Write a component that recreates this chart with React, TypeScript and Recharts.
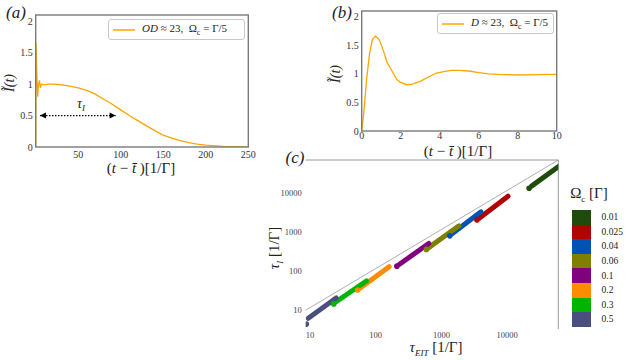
import React from 'react';
import { LineChart, Line, XAxis, YAxis, ReferenceLine, ScatterChart, Scatter } from 'recharts';

const serif = '"Liberation Serif", "DejaVu Serif", serif';

// (a) long pulse, OD ~ 23
const aTime = [0, 0.3, 1.2, 2.3, 3.3, 4.4, 5.4, 6.8, 9, 15, 20, 30, 40, 50, 60, 70, 80, 90, 100, 110, 120, 130, 140, 150, 160, 170, 180, 190, 200, 220, 250];
const aIntensity = [0, 1.66, 1.2, 0.8, 1.0, 1.06, 0.94, 1.0, 0.99, 1.0, 1.0, 0.99, 0.97, 0.94, 0.9, 0.84, 0.76, 0.68, 0.59, 0.5, 0.42, 0.34, 0.26, 0.19, 0.14, 0.1, 0.07, 0.045, 0.03, 0.01, 0.003];
const aTicksX = [50, 100, 150, 200, 250];
const aTicksY = [0, 0.5, 1, 1.5, 2];
const aArrowTime = [5, 94];
const aArrowLevel = 0.5;

// (b) short times
const bTime = [0, 0.1, 0.25, 0.4, 0.55, 0.7, 0.9, 1.1, 1.3, 1.5, 1.8, 2.0, 2.3, 2.6, 3.0, 3.4, 3.8, 4.2, 4.6, 5.0, 5.5, 6.0, 6.5, 7.0, 8.0, 9.0, 10];
const bIntensity = [0, 0.3, 0.9, 1.35, 1.6, 1.66, 1.6, 1.42, 1.2, 1.08, 0.9, 0.85, 0.81, 0.82, 0.87, 0.94, 1.01, 1.04, 1.06, 1.06, 1.05, 1.02, 1.0, 0.99, 0.98, 0.985, 0.99];
const bTicksX = [0, 2, 4, 6, 8, 10];
const bTicksY = [0, 0.5, 1, 1.5, 2];

// (c) tau_I vs tau_EIT for each control Rabi frequency
const omegaLabels = ['0.01', '0.025', '0.04', '0.06', '0.1', '0.2', '0.3', '0.5'];
const omegaColors = ['#1f4b0b', '#b30000', '#0052b4', '#808000', '#800080', '#ff8c00', '#00b400', '#4b4f80'];
const dotTauEIT = [21600, 3470, 1340, 590, 210, 53, 23, 8.8];
const dotTauI = [13200, 2040, 800, 360, 134, 33, 14.5, 4.4];
const runStartTauEIT = [23500, 3800, 1450, 640, 230, 58, 25, 9.4];
const runStartTauI = [15000, 2300, 900, 400, 150, 37, 16.5, 6.2];
const runEndTauEIT = [62000, 10300, 4000, 1850, 640, 160, 72, 25];
const runEndTauI = [49000, 8300, 3300, 1450, 510, 130, 56, 20.5];
const cTicks = [10, 100, 1000, 10000];

const aData = aTime.map((t, i) => ({ t, v: aIntensity[i] }));
const bData = bTime.map((t, i) => ({ t, v: bIntensity[i] }));
const arrowData = aArrowTime.map((t) => ({ t, v: aArrowLevel }));

const tickStyle = { fontSize: 10, fill: '#333', fontFamily: serif };

function Txt({ x, y, size = 14, rotate = 0, italic = false, children }: any) {
  return (
    <div
      style={{
        position: 'absolute', left: x, top: y, whiteSpace: 'nowrap',
        transform: `translate(-50%, -50%) rotate(${rotate}deg)`,
        fontFamily: serif, fontSize: size, fontStyle: italic ? 'italic' : 'normal', color: '#222', lineHeight: 1,
      }}
    >
      {children}
    </div>
  );
}

function Legend({ left, top, width, children }: any) {
  return (
    <div style={{
      position: 'absolute', left, top, width, height: 19, boxSizing: 'border-box',
      outline: '1px solid #c8c8c8', borderRadius: 2, background: '#fff',
      display: 'flex', alignItems: 'center', fontFamily: serif, fontSize: 11, color: '#222',
    }}>
      <div style={{ width: 22, height: 2, background: '#ffbb40', marginLeft: 4, marginRight: 7 }} />
      <span style={{ whiteSpace: 'nowrap' }}>{children}</span>
    </div>
  );
}

const arrowHead = (props: any) => {
  const { cx, cy, index } = props;
  const d = index === 0 ? `M${cx},${cy} l6,-3 l0,6 z` : `M${cx},${cy} l-6,-3 l0,6 z`;
  return <path key={index} d={d} fill="#000" />;
};

const noMark = (props: any) => <g key={props.index} />;

export default function App() {
  return (
    <div style={{ position: 'absolute', left: 0, top: 0, width: 640, height: 360, background: '#fff' }}>
      {/* (a) */}
      <LineChart width={260} height={180} data={aData} margin={{ top: 15, right: 11.7, bottom: 13, left: 5.7 }}
        style={{ position: 'absolute', left: 0, top: 0 }}>
        <XAxis dataKey="t" type="number" domain={[0, 250]} ticks={aTicksX} tickLine={false} axisLine={false}
          height={20} tickSize={0} tickMargin={4} tick={tickStyle} />
        <YAxis type="number" domain={[0, 2.1]} ticks={aTicksY} tickLine={false} axisLine={false}
          width={30} tickSize={0} tickMargin={3} tick={tickStyle} allowDataOverflow />
        <Line dataKey="v" stroke="#ffa500" strokeWidth={1.3} dot={false} isAnimationActive={false} />
        <Line data={arrowData} dataKey="v" stroke="#000" strokeWidth={1.2} strokeDasharray="1.5 1.5"
          dot={arrowHead} isAnimationActive={false} />
      </LineChart>

      {/* (b) */}
      <LineChart width={250} height={160} data={bData} margin={{ top: 11, right: 13.3, bottom: 11, left: 6.7 }}
        style={{ position: 'absolute', left: 320, top: 0 }}>
        <XAxis dataKey="t" type="number" domain={[0, 10]} ticks={bTicksX} tickLine={false} axisLine={false}
          height={18} tickSize={0} tickMargin={1} tick={tickStyle} />
        <YAxis type="number" domain={[0, 2.1]} ticks={bTicksY} tickLine={false} axisLine={false}
          width={35} tickSize={0} tickMargin={3} tick={tickStyle} allowDataOverflow />
        <Line dataKey="v" stroke="#ffa500" strokeWidth={1.3} dot={false} isAnimationActive={false} />
      </LineChart>

      {/* plot frames for (a) and (b) */}
      <svg width={640} height={200} style={{ position: 'absolute', left: 0, top: 0, pointerEvents: 'none' }}>
        <rect x={35.7} y={15} width={212.6} height={132} fill="none" stroke="#7a7a7a" strokeWidth={1.4} />
        <rect x={361.7} y={11} width={195} height={120} fill="none" stroke="#7a7a7a" strokeWidth={1.4} />
      </svg>

      <Legend left={109} top={20} width={135}>
        <i>OD</i> ≈ 23,&nbsp; Ω<sub style={{ fontSize: 8 }}>c</sub> = Γ/5
      </Legend>
      <Txt x={16} y={12} size={17} italic>(a)</Txt>
      <Txt x={10} y={83} size={14} rotate={-90} italic>Ĩ(t)</Txt>
      <Txt x={81} y={105} size={14} italic>τ<sub style={{ fontSize: 9 }}>I</sub></Txt>
      <Txt x={141} y={168} size={15}>(<i>t</i> − <i>t̄</i> )[1/Γ]</Txt>

      <Legend left={438} top={14} width={115}>
        <i>D</i> ≈ 23,&nbsp; Ω<sub style={{ fontSize: 8 }}>c</sub> = Γ/5
      </Legend>
      <Txt x={342} y={12} size={17} italic>(b)</Txt>
      <Txt x={336} y={74} size={14} rotate={-90} italic>Ĩ(t)</Txt>
      <Txt x={458} y={151} size={15}>(<i>t</i> − <i>t̄</i> )[1/Γ]</Txt>

      {/* (c) */}
      <ScatterChart width={290} height={210} margin={{ top: 20, right: 1.7, bottom: 7, left: 5.7 }}
        style={{ position: 'absolute', left: 270, top: 140 }}>
        <XAxis dataKey="x" type="number" scale="log" domain={[8.6, 60000]} ticks={cTicks} allowDataOverflow
          tickLine={false} axisLine={false} height={14} tickSize={0} tickMargin={3}
          tick={{ fontSize: 8.5, fill: '#444', fontFamily: serif }} tickFormatter={(v) => String(v)} />
        <YAxis dataKey="y" type="number" scale="log" domain={[3.3, 70000]} ticks={cTicks} allowDataOverflow
          tickLine={false} axisLine={false} width={30} tickSize={0} tickMargin={4}
          tick={{ fontSize: 8.5, fill: '#444', fontFamily: serif }} tickFormatter={(v) => String(v)} />
        <ReferenceLine y={70000} stroke="#999" strokeWidth={1} />
        <ReferenceLine x={60000} stroke="#999" strokeWidth={1} />
        <ReferenceLine segment={[{ x: 8.6, y: 10 }, { x: 60000, y: 70000 }]} stroke="#999" strokeWidth={0.8} ifOverflow="visible" />
        {omegaLabels.map((label, i) => (
          <Scatter key={'run' + label}
            data={[{ x: runStartTauEIT[i], y: runStartTauI[i] }, { x: runEndTauEIT[i], y: runEndTauI[i] }]}
            line={{ stroke: omegaColors[i], strokeWidth: 5, strokeLinecap: 'round' }}
            fill={omegaColors[i]} shape={noMark} isAnimationActive={false} />
        ))}
        {omegaLabels.map((label, i) => (
          <Scatter key={'dot' + label} data={[{ x: dotTauEIT[i], y: dotTauI[i] }]} fill={omegaColors[i]}
            shape={(p: any) => <circle cx={p.cx} cy={p.cy} r={2.8} fill={omegaColors[i]} />} isAnimationActive={false} />
        ))}
      </ScatterChart>
      <Txt x={295} y={157} size={17} italic>(c)</Txt>
      <Txt x={276} y={248} size={15} rotate={-90}><i>τ</i><sub style={{ fontSize: 9 }}><i>I</i></sub> [1/Γ]</Txt>
      <Txt x={436} y={349} size={15}><i>τ</i><sub style={{ fontSize: 9 }}><i>EIT</i></sub> [1/Γ]</Txt>

      <Txt x={589} y={195} size={15}>Ω<sub style={{ fontSize: 9 }}>c</sub> [Γ]</Txt>
      {omegaLabels.map((label, i) => (
        <div key={label} style={{ position: 'absolute', left: 572, top: 210 + i * 14.6, height: 14.6, display: 'flex', alignItems: 'center' }}>
          <div style={{ width: 18.5, height: 14.6, background: omegaColors[i] }} />
          <span style={{ marginLeft: 11, fontFamily: serif, fontSize: 9.5, color: '#222' }}>{label}</span>
        </div>
      ))}
    </div>
  );
}
